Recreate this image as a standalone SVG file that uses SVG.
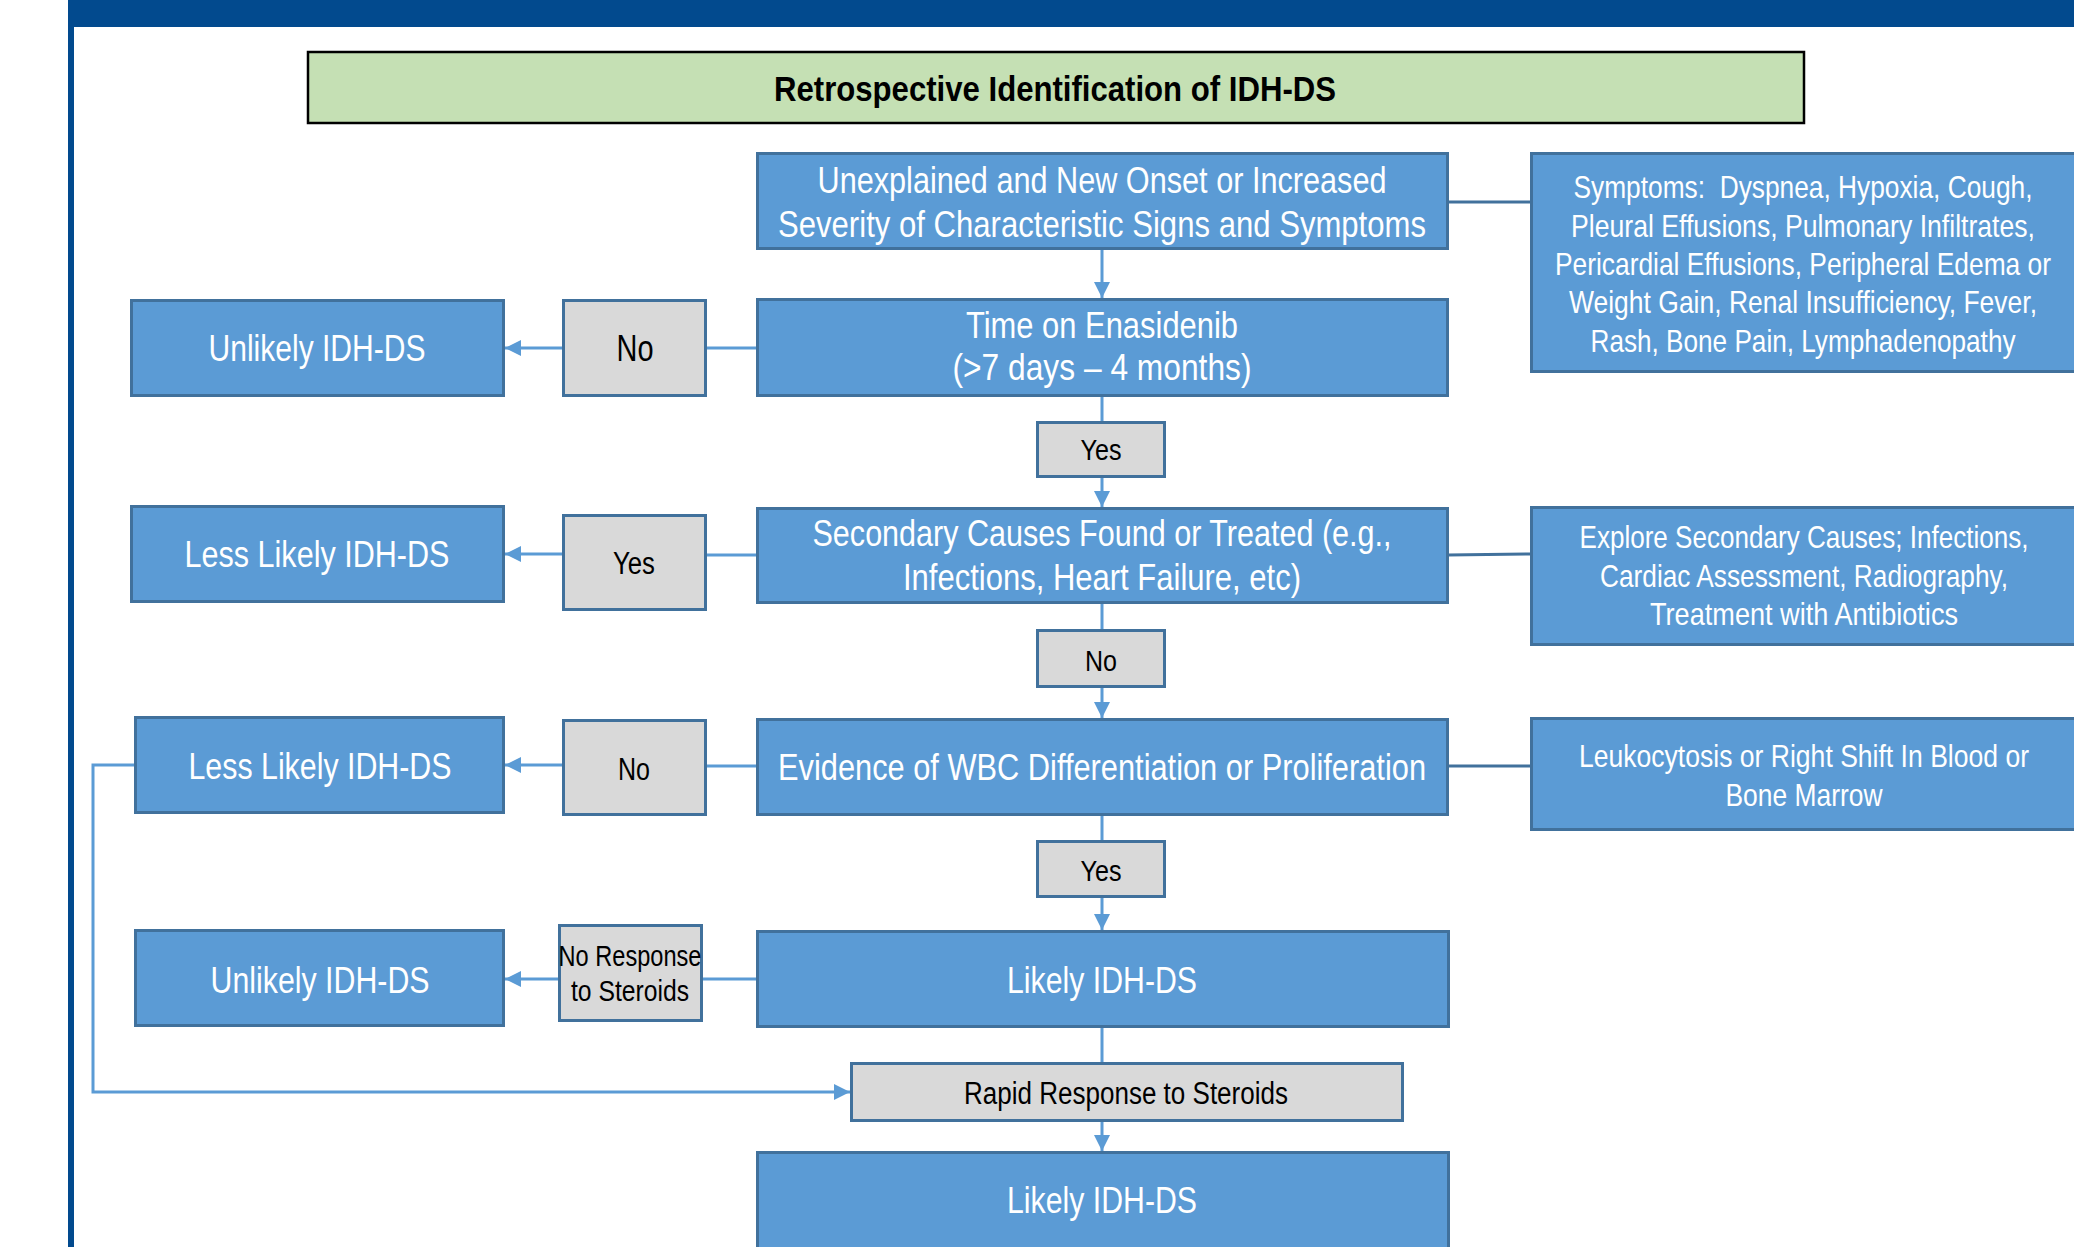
<svg xmlns="http://www.w3.org/2000/svg" width="2074" height="1247" viewBox="0 0 2074 1247">
<defs>
<style>
.b{fill:#5B9BD5;stroke:#41719C;stroke-width:3}
.g{fill:#D9D9D9;stroke:#41719C;stroke-width:3}
.t{fill:#C5E0B4;stroke:#000;stroke-width:2.5}
.w{fill:#fff;font-family:"Liberation Sans",Arial,sans-serif;font-size:37px;text-anchor:middle}
.s{fill:#fff;font-family:"Liberation Sans",Arial,sans-serif;font-size:32px;text-anchor:middle}
.k{fill:#000;font-family:"Liberation Sans",Arial,sans-serif;font-size:30px;text-anchor:middle}
.h{fill:#000;font-family:"Liberation Sans",Arial,sans-serif;font-size:35px;font-weight:bold;text-anchor:middle}
.c{fill:none;stroke:#5B9BD5;stroke-width:3}
.d{fill:none;stroke:#41719C;stroke-width:3}
</style>
<marker id="ah" viewBox="0 0 16 16" refX="16" refY="8" markerWidth="16" markerHeight="16" markerUnits="userSpaceOnUse" orient="auto">
<path d="M0,0 L16,8 L0,16 z" fill="#5B9BD5"/>
</marker>
</defs>
<rect x="0" y="0" width="2074" height="1247" fill="#fff"/>
<rect x="68" y="0" width="2006" height="27" fill="#024A8E"/>
<rect x="68" y="0" width="6" height="1247" fill="#024A8E"/>

<g id="connectors">
<line class="c" x1="1102" y1="250" x2="1102" y2="298" marker-end="url(#ah)"/>
<line class="c" x1="1102" y1="397" x2="1102" y2="421"/>
<line class="c" x1="1102" y1="477" x2="1102" y2="507" marker-end="url(#ah)"/>
<line class="c" x1="1102" y1="604" x2="1102" y2="629"/>
<line class="c" x1="1102" y1="688" x2="1102" y2="718" marker-end="url(#ah)"/>
<line class="c" x1="1102" y1="816" x2="1102" y2="840"/>
<line class="c" x1="1102" y1="898" x2="1102" y2="930" marker-end="url(#ah)"/>
<line class="c" x1="1102" y1="1028" x2="1102" y2="1062"/>
<line class="c" x1="1102" y1="1122" x2="1102" y2="1151" marker-end="url(#ah)"/>
<line class="c" x1="756" y1="348" x2="706" y2="348"/>
<line class="c" x1="562" y1="348" x2="505" y2="348" marker-end="url(#ah)"/>
<line class="c" x1="756" y1="555" x2="706" y2="555"/>
<line class="c" x1="562" y1="554" x2="505" y2="554" marker-end="url(#ah)"/>
<line class="c" x1="756" y1="766" x2="706" y2="766"/>
<line class="c" x1="562" y1="765" x2="505" y2="765" marker-end="url(#ah)"/>
<line class="c" x1="756" y1="979" x2="703" y2="979"/>
<line class="c" x1="558" y1="979" x2="505" y2="979" marker-end="url(#ah)"/>
<polyline class="c" points="134,765 93,765 93,1092 850,1092" marker-end="url(#ah)"/>
<line class="d" x1="1448" y1="202" x2="1530" y2="202"/>
<line class="d" x1="1448" y1="555" x2="1530" y2="554"/>
<line class="d" x1="1448" y1="766" x2="1530" y2="766"/>
</g>

<g id="title">
<rect class="t" x="308" y="52" width="1496" height="71"/>
<text class="h" x="1055" y="101" textLength="562" lengthAdjust="spacingAndGlyphs">Retrospective Identification of IDH-DS</text>
</g>

<g id="n-onset">
<rect class="b" x="757.5" y="153.5" width="690" height="95"/>
<text class="w" x="1102" y="193" textLength="569" lengthAdjust="spacingAndGlyphs">Unexplained and New Onset or Increased</text>
<text class="w" x="1102" y="237" textLength="648" lengthAdjust="spacingAndGlyphs">Severity of Characteristic Signs and Symptoms</text>
</g>

<g id="n-symptoms">
<path class="b" d="M2074,153.5 H1531.5 V371.5 H2074"/>
<text class="s" x="1803" y="198" textLength="459" lengthAdjust="spacingAndGlyphs">Symptoms:&#160; Dyspnea, Hypoxia, Cough,</text>
<text class="s" x="1803" y="237" textLength="464" lengthAdjust="spacingAndGlyphs">Pleural Effusions, Pulmonary Infiltrates,</text>
<text class="s" x="1803" y="275" textLength="496" lengthAdjust="spacingAndGlyphs">Pericardial Effusions, Peripheral Edema or</text>
<text class="s" x="1803" y="313" textLength="468" lengthAdjust="spacingAndGlyphs">Weight Gain, Renal Insufficiency, Fever,</text>
<text class="s" x="1803" y="352" textLength="425" lengthAdjust="spacingAndGlyphs">Rash, Bone Pain, Lymphadenopathy</text>
</g>

<g id="n-time">
<rect class="b" x="757.5" y="299.5" width="690" height="96"/>
<text class="w" x="1102" y="338" textLength="272" lengthAdjust="spacingAndGlyphs">Time on Enasidenib</text>
<text class="w" x="1102" y="380" textLength="299" lengthAdjust="spacingAndGlyphs">(&gt;7 days – 4 months)</text>
</g>

<g id="l-no1">
<rect class="g" x="563.5" y="300.5" width="142" height="95"/>
<text class="k" x="635" y="361" style="font-size:36px" textLength="37" lengthAdjust="spacingAndGlyphs">No</text>
</g>

<g id="n-unlikely1">
<rect class="b" x="131.5" y="300.5" width="372" height="95"/>
<text class="w" x="317" y="361" textLength="217" lengthAdjust="spacingAndGlyphs">Unlikely IDH-DS</text>
</g>

<g id="l-yes1">
<rect class="g" x="1037.5" y="422.5" width="127" height="54"/>
<text class="k" x="1101" y="460" textLength="41" lengthAdjust="spacingAndGlyphs">Yes</text>
</g>

<g id="n-secondary">
<rect class="b" x="757.5" y="508.5" width="690" height="94"/>
<text class="w" x="1102" y="546" textLength="579" lengthAdjust="spacingAndGlyphs">Secondary Causes Found or Treated (e.g.,</text>
<text class="w" x="1102" y="590" textLength="398" lengthAdjust="spacingAndGlyphs">Infections, Heart Failure, etc)</text>
</g>

<g id="n-explore">
<path class="b" d="M2074,507.5 H1531.5 V644.5 H2074"/>
<text class="s" x="1804" y="548" textLength="449" lengthAdjust="spacingAndGlyphs">Explore Secondary Causes; Infections,</text>
<text class="s" x="1804" y="587" textLength="408" lengthAdjust="spacingAndGlyphs">Cardiac Assessment, Radiography,</text>
<text class="s" x="1804" y="625" textLength="308" lengthAdjust="spacingAndGlyphs">Treatment with Antibiotics</text>
</g>

<g id="l-yes2">
<rect class="g" x="563.5" y="515.5" width="142" height="94"/>
<text class="k" x="634" y="574" style="font-size:31px" textLength="42" lengthAdjust="spacingAndGlyphs">Yes</text>
</g>

<g id="n-lesslikely1">
<rect class="b" x="131.5" y="506.5" width="372" height="95"/>
<text class="w" x="317" y="567" textLength="265" lengthAdjust="spacingAndGlyphs">Less Likely IDH-DS</text>
</g>

<g id="l-no2">
<rect class="g" x="1037.5" y="630.5" width="127" height="56"/>
<text class="k" x="1101" y="671" textLength="32" lengthAdjust="spacingAndGlyphs">No</text>
</g>

<g id="n-evidence">
<rect class="b" x="757.5" y="719.5" width="690" height="95"/>
<text class="w" x="1102" y="780" textLength="648" lengthAdjust="spacingAndGlyphs">Evidence of WBC Differentiation or Proliferation</text>
</g>

<g id="n-leuko">
<path class="b" d="M2074,718.5 H1531.5 V829.5 H2074"/>
<text class="s" x="1804" y="767" textLength="450" lengthAdjust="spacingAndGlyphs">Leukocytosis or Right Shift In Blood or</text>
<text class="s" x="1804" y="806" textLength="157" lengthAdjust="spacingAndGlyphs">Bone Marrow</text>
</g>

<g id="l-no3">
<rect class="g" x="563.5" y="720.5" width="142" height="94"/>
<text class="k" x="634" y="780" style="font-size:31px" textLength="32" lengthAdjust="spacingAndGlyphs">No</text>
</g>

<g id="n-lesslikely2">
<rect class="b" x="135.5" y="717.5" width="368" height="95"/>
<text class="w" x="320" y="779" textLength="263" lengthAdjust="spacingAndGlyphs">Less Likely IDH-DS</text>
</g>

<g id="l-yes3">
<rect class="g" x="1037.5" y="841.5" width="127" height="55"/>
<text class="k" x="1101" y="881" textLength="41" lengthAdjust="spacingAndGlyphs">Yes</text>
</g>

<g id="n-likely1">
<rect class="b" x="757.5" y="931.5" width="691" height="95"/>
<text class="w" x="1102" y="993" textLength="190" lengthAdjust="spacingAndGlyphs">Likely IDH-DS</text>
</g>

<g id="l-noresponse">
<rect class="g" x="559.5" y="925.5" width="142" height="95"/>
<text class="k" x="630" y="966" style="font-size:29px" textLength="143" lengthAdjust="spacingAndGlyphs">No Response</text>
<text class="k" x="630" y="1001" style="font-size:29px" textLength="118" lengthAdjust="spacingAndGlyphs">to Steroids</text>
</g>

<g id="n-unlikely2">
<rect class="b" x="135.5" y="930.5" width="368" height="95"/>
<text class="w" x="320" y="993" textLength="219" lengthAdjust="spacingAndGlyphs">Unlikely IDH-DS</text>
</g>

<g id="l-rapid">
<rect class="g" x="851.5" y="1063.5" width="551" height="57"/>
<text class="k" x="1126" y="1104" style="font-size:31px" textLength="324" lengthAdjust="spacingAndGlyphs">Rapid Response to Steroids</text>
</g>

<g id="n-likely2">
<path class="b" d="M757.5,1247 V1152.5 H1448.5 V1247"/>
<text class="w" x="1102" y="1213" textLength="190" lengthAdjust="spacingAndGlyphs">Likely IDH-DS</text>
</g>
</svg>
